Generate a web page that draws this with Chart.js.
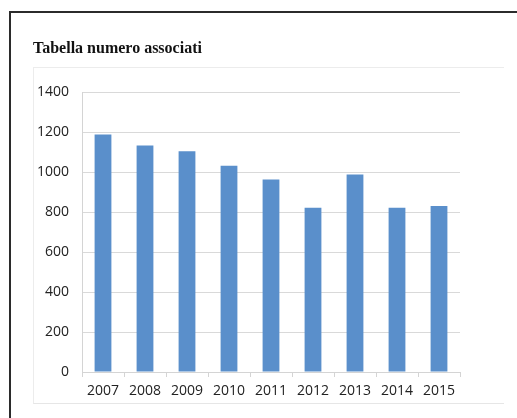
<!DOCTYPE html>
<html>
<head>
<meta charset="utf-8">
<script src="https://cdn.jsdelivr.net/npm/chart.js@4/dist/chart.umd.min.js"></script>
<style>
    html, body { margin: 0; padding: 0; background: #fff; }
    #page { position: relative; width: 517px; height: 418px; overflow: hidden; }
    .frame {
        position: absolute; left: 9px; top: 11px; width: 600px; height: 500px;
        border-top: 2px solid #2b2b2b; border-left: 2px solid #2b2b2b;
    }
    .box {
        position: absolute; left: 33px; top: 67px; width: 470px; height: 335px;
        border-top: 1px solid #ececec; border-left: 1px solid #ececec; border-bottom: 1px solid #e6e6e6;
    }
    #chart { position: absolute; left: 0; top: 0; }
</style>
</head>
<body>
<div id="page">
    <div class="frame"></div>
    <div class="box"></div>
    <canvas id="chart" width="517" height="418"></canvas>
</div>
<script>
// Data
const years = ['2007', '2008', '2009', '2010', '2011', '2012', '2013', '2014', '2015'];
const associati = [1188, 1133, 1105, 1032, 963, 822, 988, 822, 830];
const yTicks = [0, 200, 400, 600, 800, 1000, 1200, 1400];

const tickFont = { family: '"Open Sans", "Liberation Sans", sans-serif', size: 14 };

const ctx = document.getElementById('chart').getContext('2d');
new Chart(ctx, {
    type: 'bar',
    data: {
        labels: years,
        datasets: [{
            label: 'Associati',
            data: associati,
            backgroundColor: '#5a8fcb',
            borderWidth: 0,
            categoryPercentage: 1,
            barPercentage: 0.4
        }]
    },
    options: {
        responsive: false,
        animation: false,
        layout: { padding: { left: 33, right: 57, top: 0, bottom: 16 } },
        plugins: {
            legend: { display: false },
            tooltip: { enabled: false },
            title: {
                display: true,
                text: 'Tabella numero associati',
                align: 'start',
                color: '#111',
                font: { family: '"Liberation Serif", "DejaVu Serif", serif', size: 16, weight: 'bold' },
                padding: { top: 39, bottom: 34 }
            }
        },
        scales: {
            x: {
                grid: {
                    display: true,
                    drawOnChartArea: false,
                    drawTicks: true,
                    tickLength: 5,
                    color: '#d4d4d4'
                },
                border: { color: '#d4d4d4' },
                ticks: { color: '#222', font: tickFont, padding: 6, maxRotation: 0 },
                afterFit: s => { s.height = 30; }
            },
            y: {
                min: 0,
                max: 1400,
                afterBuildTicks: s => { s.ticks = yTicks.map(v => ({ value: v })); },
                grid: { color: '#d9d9d9', drawTicks: false },
                border: { color: '#d4d4d4' },
                ticks: { color: '#222', font: tickFont, padding: 13, callback: v => String(v) },
                afterFit: s => { s.width = 49; }
            }
        }
    }
});
</script>
</body>
</html>
